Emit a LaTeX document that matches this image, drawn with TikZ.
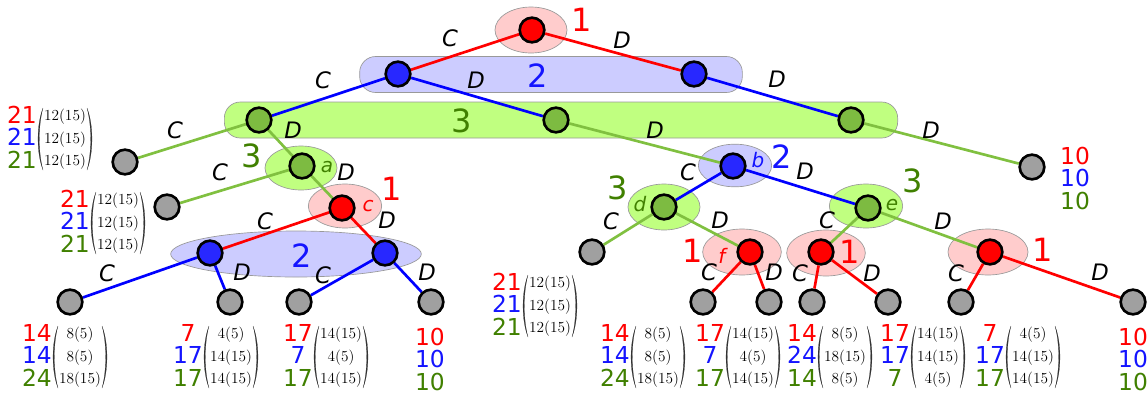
\documentclass[tikz,border=0pt]{standalone}
\usepackage{fontspec}
\newfontfamily\dv{DejaVu Sans}
\usetikzlibrary{shapes.geometric}
\definecolor{cred}{RGB}{255,0,0}
\definecolor{cblue}{RGB}{0,0,255}
\definecolor{tblue}{RGB}{20,20,255}
\definecolor{nblue}{RGB}{40,40,255}
\definecolor{ngreen}{RGB}{125,187,65}
\definecolor{egreen}{RGB}{128,192,64}
\definecolor{tgreen}{RGB}{64,128,0}
\definecolor{ngray}{RGB}{160,160,160}
\definecolor{fpink}{RGB}{255,204,204}
\definecolor{fblue}{RGB}{204,204,255}
\definecolor{fgreen}{RGB}{192,255,128}
\pgfdeclarelayer{bands}\pgfdeclarelayer{edges}
\pgfsetlayers{bands,edges,main}
\tikzset{
  nd/.style={circle, draw=black, line width=2pt, minimum size=18.5pt, inner sep=0pt},
  rn/.style={nd, fill=cred}, bn/.style={nd, fill=nblue},
  gn/.style={nd, fill=ngreen}, lf/.style={nd, fill=ngray},
  re/.style={draw=cred, line width=2pt}, be/.style={draw=cblue, line width=2pt},
  ge/.style={draw=egreen, line width=2pt},
  hl/.style={ellipse, draw=black!40, line width=0.5pt, inner sep=0pt},
  band/.style={rectangle, rounded corners=12pt, draw=black!40, line width=0.5pt, inner sep=0pt},
  elab/.style={font=\dv\itshape\fontsize{17}{17}\selectfont, inner sep=0pt},
  lvl/.style={font=\dv\fontsize{24}{24}\selectfont, inner sep=0pt},
  nm/.style={font=\dv\itshape\fontsize{15}{15}\selectfont, inner sep=0pt},
  paynum/.style={font=\dv\fontsize{17.5}{17.5}\selectfont, inner sep=0pt, anchor=base},
  paymat/.style={font=\rmfamily\fontsize{11.5}{11.5}\selectfont, inner sep=0pt, anchor=base},
  parc/.style={fill=black!80, draw=black!80, line width=0.15pt},
}
% name, paren x, centre y, three payoffs, three matrix rows
\newcommand\payoff[9]{%
  \node[paynum] (#1a) at ({#2-15},{#3-14}) {\textcolor{cred}{#4}};
  \node[paynum] (#1b) at ({#2-15},{#3+8.5}) {\textcolor{tblue}{#5}};
  \node[paynum] (#1c) at ({#2-15},{#3+31}) {\textcolor{tgreen}{#6}};
  \node[paymat] (#1d) at ({#2+28},{#3-16.5}) {#7};
  \node[paymat] (#1e) at ({#2+28},{#3+6}) {#8};
  \node[paymat] (#1f) at ({#2+28},{#3+28.5}) {#9};
  \filldraw[parc] ({#2+6},{#3-29}) .. controls ({#2-0.6},{#3-12}) and ({#2-0.6},{#3+16}) .. ({#2+6},{#3+33})
     .. controls ({#2+1.1},{#3+16}) and ({#2+1.1},{#3-12}) .. cycle;
  \filldraw[parc] ({#2+50},{#3-29}) .. controls ({#2+56.6},{#3-12}) and ({#2+56.6},{#3+16}) .. ({#2+50},{#3+33})
     .. controls ({#2+54.9},{#3+16}) and ({#2+54.9},{#3-12}) .. cycle;
}
\newcommand\tens[3]{%
  \node[paynum] (#1a) at (#2,{#3-14}) {\textcolor{cred}{10}};
  \node[paynum] (#1b) at (#2,{#3+8.5}) {\textcolor{tblue}{10}};
  \node[paynum] (#1c) at (#2,{#3+31}) {\textcolor{tgreen}{10}};
}
\begin{document}
\begin{tikzpicture}[x=0.75pt,y=-0.75pt]
\useasboundingbox (0,0) rectangle (1147,394);

\begin{pgfonlayer}{bands}
  \node[band, fill=fblue, minimum width=287pt, minimum height=27pt] (B2) at (551,74.5) {};
  \node[band, fill=fgreen, minimum width=505pt, minimum height=27pt] (B3) at (561,120) {};
  \node[hl, fill=fpink, minimum width=54pt, minimum height=34.5pt] (Hr0) at (531,30) {};
  \node[hl, fill=fgreen, minimum width=54pt, minimum height=33pt] (Ha) at (301,168) {};
  \node[hl, fill=fblue, minimum width=55pt, minimum height=32pt] (Hb) at (735,165.5) {};
  \node[hl, fill=fpink, minimum width=55pt, minimum height=33pt] (Hc) at (345,206) {};
  \node[hl, fill=fgreen, minimum width=54pt, minimum height=34.5pt] (Hd) at (664,207) {};
  \node[hl, fill=fgreen, minimum width=55pt, minimum height=33pt] (He) at (866,206) {};
  \node[hl, fill=fblue, minimum width=188pt, minimum height=34.5pt] (Hbb) at (296,254) {};
  \node[hl, fill=fpink, minimum width=59pt, minimum height=34.5pt] (Hf) at (742,252) {};
  \node[hl, fill=fpink, minimum width=59pt, minimum height=34.5pt] (Hg) at (826,253) {};
  \node[hl, fill=fpink, minimum width=60pt, minimum height=34.5pt] (Hh) at (988,252) {};
\end{pgfonlayer}

% decision nodes
\node[rn] (r0) at (532,30) {};
\node[bn] (b1) at (398,74) {};
\node[bn] (b2) at (694,74) {};
\node[gn] (g1) at (259,120) {};
\node[gn] (g2) at (556,120) {};
\node[gn] (g3) at (851,120) {};
\node[lf] (l1) at (125,162) {};
\node[gn] (a) at (302,166) {};
\node[bn] (b) at (733,166) {};
\node[lf] (l3) at (1032,167) {};
\node[lf] (l2) at (167,207) {};
\node[rn] (c) at (342,208) {};
\node[gn] (d) at (664,207) {};
\node[gn] (e) at (868,208) {};
\node[bn] (bl) at (210,253) {};
\node[bn] (br) at (385,253) {};
\node[lf] (l4) at (592,252) {};
\node[rn] (f) at (750,252) {};
\node[rn] (g) at (821,252) {};
\node[rn] (h) at (990,252) {};
\node[lf] (L1) at (70,302) {};
\node[lf] (L2) at (230,302) {};
\node[lf] (L3) at (299,302) {};
\node[lf] (L4) at (431,302) {};
\node[lf] (L5) at (703,302) {};
\node[lf] (L6) at (769,302) {};
\node[lf] (L7) at (812,302) {};
\node[lf] (L8) at (888,302) {};
\node[lf] (L9) at (961,302) {};
\node[lf] (L10) at (1133,302) {};

\begin{pgfonlayer}{edges}
  \draw[re] (r0) -- (b1); \draw[re] (r0) -- (b2);
  \draw[be] (b1) -- (g1); \draw[be] (b1) -- (g2); \draw[be] (b2) -- (g3);
  \draw[ge] (g1) -- (l1); \draw[ge] (g1) -- (a); \draw[ge] (g2) -- (b); \draw[ge] (g3) -- (l3);
  \draw[ge] (a) -- (l2); \draw[ge] (a) -- (c);
  \draw[re] (c) -- (bl); \draw[re] (c) -- (br);
  \draw[be] (bl) -- (L1); \draw[be] (bl) -- (L2);
  \draw[be] (br) -- (L3); \draw[be] (br) -- (L4);
  \draw[be] (b) -- (d); \draw[be] (b) -- (e);
  \draw[ge] (d) -- (l4); \draw[ge] (d) -- (f);
  \draw[ge] (e) -- (g); \draw[ge] (e) -- (h);
  \draw[re] (f) -- (L5); \draw[re] (f) -- (L6);
  \draw[re] (g) -- (L7); \draw[re] (g) -- (L8);
  \draw[re] (h) -- (L9); \draw[re] (h) -- (L10);
\end{pgfonlayer}

% level labels
\node[lvl, text=cred] (v1) at (582,20) {1};
\node[lvl, text=tblue] (v2) at (538,76) {2};
\node[lvl, text=tgreen] (v3) at (462,121) {3};
\node[lvl, text=tgreen] (v4) at (252,156) {3};
\node[lvl, text=cred] (v5) at (392,189) {1};
\node[lvl, text=tblue] (v6) at (302,256) {2};
\node[lvl, text=tblue] (v7) at (782,157) {2};
\node[lvl, text=tgreen] (v8) at (618,188) {3};
\node[lvl, text=tgreen] (v9) at (913,181) {3};
\node[lvl, text=cred] (v10) at (693,251) {1};
\node[lvl, text=cred] (v11) at (850,252) {1};
\node[lvl, text=cred] (v12) at (1043,250) {1};

% node names
\node[nm, text=tgreen] (na) at (327,167) {a};
\node[nm, text=tblue] (nb) at (758,160) {b};
\node[nm, text=cred] (nc) at (368,206) {c};
\node[nm, text=tgreen] (nd) at (640,204) {d};
\node[nm, text=tgreen] (ne) at (892,205) {e};
\node[nm, text=cred] (nf) at (722,256) {f};

% action labels
\node[elab] (e1) at (450,38) {C};
\node[elab] (e2) at (622,40) {D};
\node[elab] (e3) at (323,80) {C};
\node[elab] (e4) at (476,80) {D};
\node[elab] (e5) at (777,79) {D};
\node[elab] (e6) at (175,130) {C};
\node[elab] (e7) at (293,130) {D};
\node[elab] (e8) at (655,130) {D};
\node[elab] (e9) at (931,130) {D};
\node[elab] (e10) at (220,172) {C};
\node[elab] (e11) at (346,172) {D};
\node[elab] (e12) at (688,172) {C};
\node[elab] (e13) at (805,171) {D};
\node[elab] (e14) at (265,221) {C};
\node[elab] (e15) at (387,220) {D};
\node[elab] (e16) at (611,221) {C};
\node[elab] (e17) at (720,220) {D};
\node[elab] (e18) at (827,220) {C};
\node[elab] (e19) at (943,221) {D};
\node[elab] (e20) at (107,273) {C};
\node[elab] (e21) at (242,272) {D};
\node[elab] (e22) at (323,275) {C};
\node[elab] (e23) at (427,272) {D};
\node[elab] (e24) at (709,272) {C};
\node[elab] (e25) at (774,272) {D};
\node[elab] (e26) at (800,273) {C};
\node[elab] (e27) at (872,273) {D};
\node[elab] (e28) at (956,273) {C};
\node[elab] (e29) at (1100,272) {D};

% payoffs
\payoff{p1}{37}{137}{21}{21}{21}{12(15)}{12(15)}{12(15)}
\payoff{p2}{90}{221}{21}{21}{21}{12(15)}{12(15)}{12(15)}
\payoff{p3}{522}{304}{21}{21}{21}{12(15)}{12(15)}{12(15)}
\payoff{p4}{52}{355}{14}{14}{24}{8(5)}{8(5)}{18(15)}
\payoff{p5}{203}{355}{7}{17}{17}{4(5)}{14(15)}{14(15)}
\payoff{p6}{313}{355}{17}{7}{17}{14(15)}{4(5)}{14(15)}
\payoff{p7}{630}{355}{14}{14}{24}{8(5)}{8(5)}{18(15)}
\payoff{p8}{725}{355}{17}{7}{17}{14(15)}{4(5)}{14(15)}
\payoff{p9}{817}{355}{14}{24}{14}{8(5)}{18(15)}{8(5)}
\payoff{p10}{910}{355}{17}{17}{7}{14(15)}{14(15)}{4(5)}
\payoff{p11}{1005}{355}{7}{17}{17}{4(5)}{14(15)}{14(15)}
\tens{t1}{1075}{178}
\tens{t2}{430}{359}
\tens{t3}{1133}{359}
\end{tikzpicture}
\end{document}
